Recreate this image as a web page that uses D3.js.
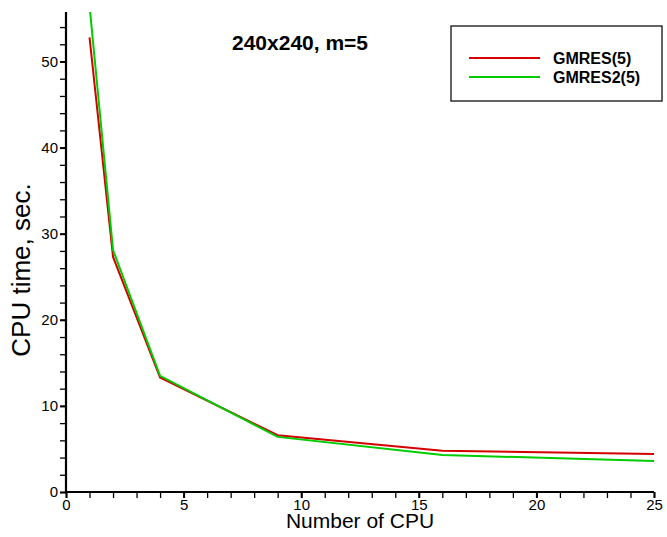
<!DOCTYPE html>
<html>
<head>
<meta charset="utf-8">
<script src="https://cdn.jsdelivr.net/npm/d3@7"></script>
<style>
  body { margin: 0; background: #fff; }
  svg { display: block; font-family: "Liberation Sans", Arial, sans-serif; }
</style>
</head>
<body>
<script>
// number of CPUs and timings
var cpus = [1, 2, 4, 9, 16, 25];
var gmres = [52.8, 27.3, 13.3, 6.6, 4.8, 4.4];
var gmres2 = [56.5, 28.1, 13.5, 6.4, 4.3, 3.6];
var seriesNames = ["GMRES(5)", "GMRES2(5)"];
var seriesColors = ["#d40000", "#00cc00"];
var xTicks = [0, 5, 10, 15, 20, 25];
var yTicks = [0, 10, 20, 30, 40, 50];

var width = 667, height = 537;
// plot box edges (note: "top" is reserved on window, so use p* names)
var pLeft = 66, pRight = 654, pTop = 12, pBottom = 492;

var svg = d3.select("body").append("svg")
    .attr("width", width)
    .attr("height", height);

var x = d3.scaleLinear().domain([0, 25]).range([pLeft, pRight]);
var y = d3.scaleLinear().domain([0, 55.75]).range([pBottom, pTop]);

// clip so the first green point gets cut at the top
svg.append("clipPath").attr("id", "plotclip")
    .append("rect")
    .attr("x", pLeft).attr("y", pTop)
    .attr("width", pRight - pLeft).attr("height", pBottom - pTop);

// minor ticks first
var xMinor = d3.axisBottom(x).tickValues(d3.range(0, 26, 1)).tickSize(6).tickFormat("");
svg.append("g").attr("transform", "translate(0," + pBottom + ")").call(xMinor)
    .call(function (g) { g.select(".domain").remove(); })
    .selectAll("line").attr("stroke", "#000").attr("stroke-width", 1.3);

var yMinor = d3.axisLeft(y).tickValues(d3.range(0, 55, 2)).tickSize(6).tickFormat("");
svg.append("g").attr("transform", "translate(" + pLeft + ",0)").call(yMinor)
    .call(function (g) { g.select(".domain").remove(); })
    .selectAll("line").attr("stroke", "#000").attr("stroke-width", 1.3);

// major ticks
var xAxis = d3.axisBottom(x).tickValues(xTicks).tickSize(6).tickPadding(1);
var gx = svg.append("g").attr("transform", "translate(0," + pBottom + ")").call(xAxis);
gx.select(".domain").remove();
gx.selectAll("line").attr("stroke", "#000").attr("stroke-width", 2);
gx.selectAll("text").attr("font-size", 15).attr("fill", "#000")
    .attr("font-family", "Liberation Sans, Arial, sans-serif");

var yAxis = d3.axisLeft(y).tickValues(yTicks).tickSize(6).tickPadding(2);
var gy = svg.append("g").attr("transform", "translate(" + pLeft + ",0)").call(yAxis);
gy.select(".domain").remove();
gy.selectAll("line").attr("stroke", "#000").attr("stroke-width", 2);
gy.selectAll("text").attr("font-size", 15).attr("fill", "#000")
    .attr("font-family", "Liberation Sans, Arial, sans-serif");

// axis lines (only left and bottom)
svg.append("line")
    .attr("x1", pLeft).attr("x2", pLeft)
    .attr("y1", pTop).attr("y2", pBottom + 1)
    .attr("stroke", "#000").attr("stroke-width", 2.2);
svg.append("line")
    .attr("x1", pLeft - 1).attr("x2", pRight)
    .attr("y1", pBottom).attr("y2", pBottom)
    .attr("stroke", "#000").attr("stroke-width", 2.2);

// the lines
var line = d3.line()
    .x(function (d) { return x(d[0]); })
    .y(function (d) { return y(d[1]); });

var allSeries = [gmres, gmres2];
allSeries.forEach(function (vals, i) {
    svg.append("path")
        .datum(d3.zip(cpus, vals))
        .attr("clip-path", "url(#plotclip)")
        .attr("fill", "none")
        .attr("stroke", seriesColors[i])
        .attr("stroke-width", 2)
        .attr("d", line);
});

// title
svg.append("text")
    .attr("x", 232).attr("y", 50)
    .attr("font-size", 21).attr("font-weight", "bold")
    .text("240x240, m=5");

// axis labels
svg.append("text")
    .attr("x", 360).attr("y", 528)
    .attr("text-anchor", "middle")
    .attr("font-size", 21)
    .text("Number of CPU");

svg.append("text")
    .attr("transform", "translate(30,270) rotate(-90)")
    .attr("text-anchor", "middle")
    .attr("font-size", 26)
    .text("CPU time, sec.");

// legend
var legend = svg.append("g");
legend.append("rect")
    .attr("x", 451).attr("y", 26)
    .attr("width", 211).attr("height", 75)
    .attr("fill", "#fff")
    .attr("stroke", "#222").attr("stroke-width", 1.4);

seriesNames.forEach(function (name, i) {
    var ly = 58 + i * 19;
    legend.append("line")
        .attr("x1", 469).attr("x2", 540)
        .attr("y1", ly).attr("y2", ly)
        .attr("stroke", seriesColors[i]).attr("stroke-width", 2);
    legend.append("text")
        .attr("x", 553).attr("y", ly + 6)
        .attr("font-size", 16).attr("font-weight", "bold")
        .text(name);
});
</script>
</body>
</html>
